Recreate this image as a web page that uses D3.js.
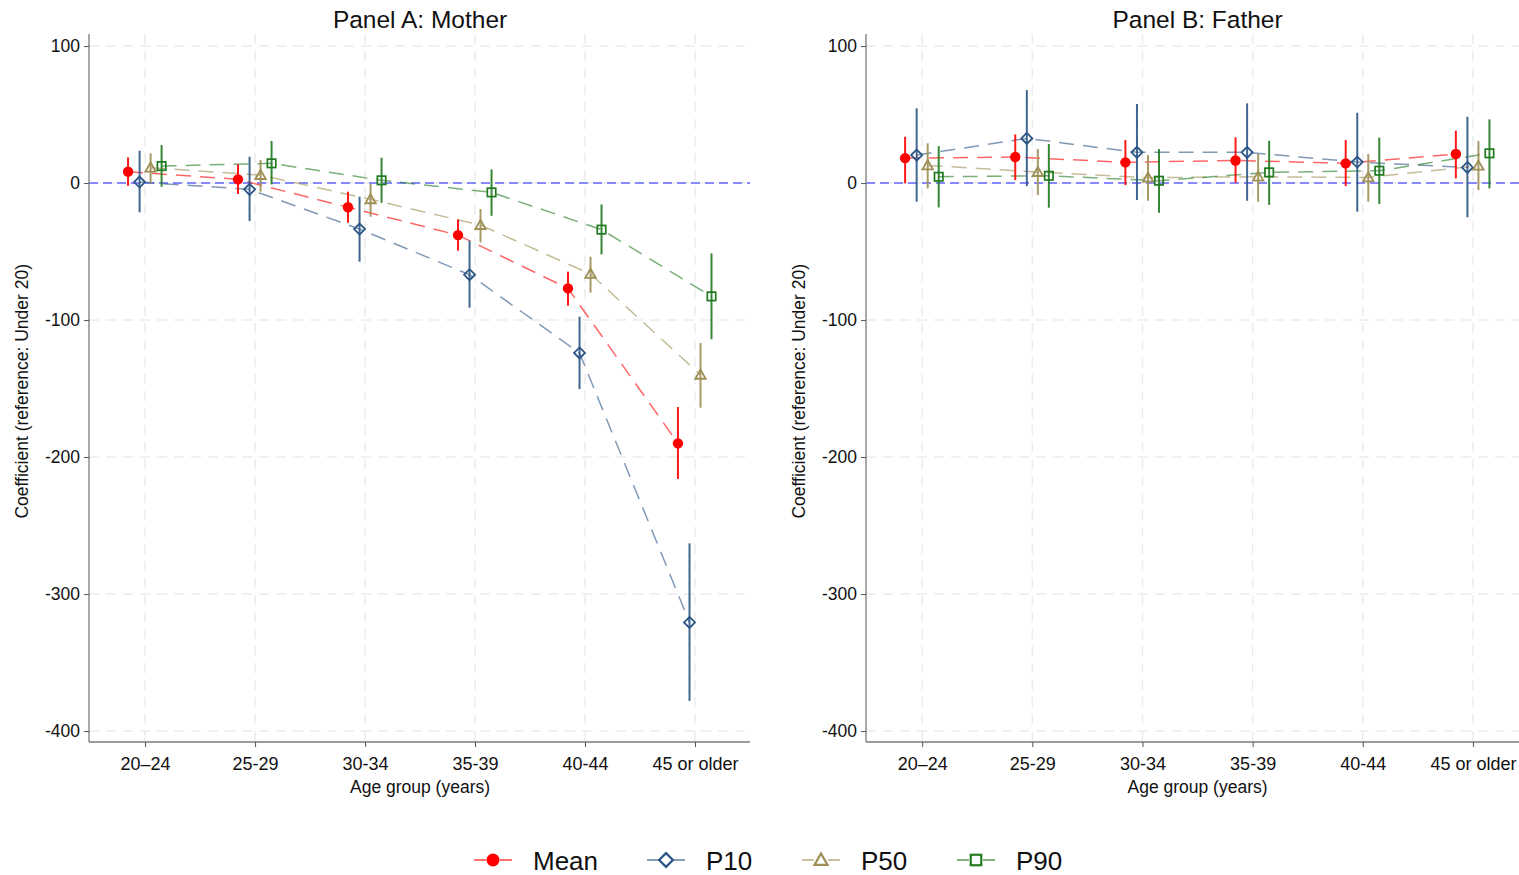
<!DOCTYPE html>
<html>
<head>
<meta charset="utf-8">
<script src="https://cdn.jsdelivr.net/npm/d3@7"></script>
<style>
  html, body { margin: 0; padding: 0; background: #fff; }
  svg { display: block; font-family: "Liberation Sans", Arial, sans-serif; }
</style>
</head>
<body>
<svg id="chart" width="1519" height="875"></svg>
<script>
// ---------- DATA ----------
const categories = ["20\u201324", "25-29", "30-34", "35-39", "40-44", "45 or older"];
const yTicks = [100, 0, -100, -200, -300, -400];
const seriesNames = ["Mean", "P10", "P50", "P90"];

// Panel A: Mother
const motherMean   = [8.3, 2.7, -17.7, -38, -76.9, -190];
const motherMeanLo = [-2, -8, -29, -49.4, -89.5, -216];
const motherMeanHi = [18.7, 13.6, -6.3, -26.5, -64.7, -163.5];

const motherP10   = [0.7, -4.6, -33.6, -66.9, -124, -320.7];
const motherP10Lo = [-21.4, -27.7, -57.4, -91, -150.4, -378];
const motherP10Hi = [23.6, 19.2, -10, -42.1, -97.6, -263];

const motherP50   = [11.2, 5.8, -11.9, -30.7, -66.4, -140];
const motherP50Lo = [-0.2, -6.3, -24.6, -43.3, -80, -164];
const motherP50Hi = [21.7, 16.8, -0.7, -19, -53.8, -116.8];

const motherP90   = [12.4, 14.4, 2, -6.8, -34, -82.7];
const motherP90Lo = [-2.7, -1, -14.4, -23.9, -52, -114];
const motherP90Hi = [27.7, 30.7, 18.5, 10, -15.6, -51.3];

// Panel B: Father
const fatherMean   = [18.2, 19, 15.1, 16.5, 14.4, 21.2];
const fatherMeanLo = [-0.2, 2.2, -1.5, 0.2, -2.2, 3.4];
const fatherMeanHi = [33.8, 35.5, 31.4, 33.4, 31.4, 38.2];

const fatherP10   = [20.4, 32.6, 22.4, 22.4, 15.3, 11.4];
const fatherP10Lo = [-13.6, -2.2, -12.4, -12.9, -20.9, -25];
const fatherP10Hi = [54.5, 67.9, 57.7, 58.2, 51.3, 48.4];

const fatherP50   = [12.9, 8, 3.9, 4.6, 4.1, 12.6];
const fatherP50Lo = [-3.9, -8.8, -12.9, -13.6, -13.6, -5.1];
const fatherP50Hi = [29, 24.8, 20.4, 21.2, 21.2, 30.7];

const fatherP90   = [4.6, 5.3, 1.7, 7.8, 9, 21.7];
const fatherP90Lo = [-17.8, -18, -21.7, -16, -15.3, -3.9];
const fatherP90Hi = [27, 28.5, 24.8, 30.9, 33.1, 46.5];

// ---------- STYLE ----------
const colors = { Mean: "#ff0000", P10: "#2b5584", P50: "#9d8f55", P90: "#1f7a1f" };
const offsets = { Mean: -0.155, P10: -0.05, P50: 0.05, P90: 0.15 };
const FONT = '"Liberation Sans", Arial, sans-serif';

const svg = d3.select("#chart");

const panels = [
  { title: "Panel A: Mother", left: 89, right: 750,
    data: {
      Mean: [motherMean, motherMeanLo, motherMeanHi],
      P10: [motherP10, motherP10Lo, motherP10Hi],
      P50: [motherP50, motherP50Lo, motherP50Hi],
      P90: [motherP90, motherP90Lo, motherP90Hi] } },
  { title: "Panel B: Father", left: 866, right: 1528,
    data: {
      Mean: [fatherMean, fatherMeanLo, fatherMeanHi],
      P10: [fatherP10, fatherP10Lo, fatherP10Hi],
      P50: [fatherP50, fatherP50Lo, fatherP50Hi],
      P90: [fatherP90, fatherP90Lo, fatherP90Hi] } }
];

const plotTop = 34, plotBottom = 742;

function drawMarker(g, name, x, y, big) {
  const s = big ? 1.25 : 1;
  const c = colors[name];
  if (name === "Mean") {
    g.append("circle").attr("cx", x).attr("cy", y).attr("r", 5.2 * s).attr("fill", c);
  } else if (name === "P10") {
    const r = 5.5 * s;
    g.append("path")
      .attr("d", `M${x},${y - r}L${x + r},${y}L${x},${y + r}L${x - r},${y}Z`)
      .attr("fill", "none").attr("stroke", c).attr("stroke-width", 1.8 * s);
  } else if (name === "P50") {
    const r = 5.2 * s;
    g.append("path")
      .attr("d", `M${x},${y - r}L${x + r},${y + r * 0.75}L${x - r},${y + r * 0.75}Z`)
      .attr("fill", "none").attr("stroke", c).attr("stroke-width", 1.8 * s);
  } else {
    const r = 4.2 * s;
    g.append("rect").attr("x", x - r).attr("y", y - r).attr("width", 2 * r).attr("height", 2 * r)
      .attr("fill", "none").attr("stroke", c).attr("stroke-width", 1.7 * s);
  }
}

panels.forEach(p => {
  const x = d3.scaleLinear().domain([0.49, 6.5]).range([p.left, p.right]);
  const y = d3.scaleLinear().domain([108.8, -408]).range([plotTop, plotBottom]);
  const g = svg.append("g");

  // grid
  g.append("g").selectAll("line").data(yTicks).join("line")
    .attr("x1", p.left).attr("x2", p.right)
    .attr("y1", d => y(d)).attr("y2", d => y(d))
    .attr("stroke", "#ececec").attr("stroke-width", 1.5).attr("stroke-dasharray", "10,7");
  g.append("g").selectAll("line").data(categories).join("line")
    .attr("x1", (d, i) => x(i + 1)).attr("x2", (d, i) => x(i + 1))
    .attr("y1", plotTop).attr("y2", plotBottom)
    .attr("stroke", "#ececec").attr("stroke-width", 1.5).attr("stroke-dasharray", "10,7");

  // zero reference line
  g.append("line")
    .attr("x1", p.left).attr("x2", p.right).attr("y1", y(0)).attr("y2", y(0))
    .attr("stroke", "#8888ff").attr("stroke-width", 2).attr("stroke-dasharray", "9,5");

  // axes
  const yAxis = d3.axisLeft(y).tickValues(yTicks).tickSize(5).tickPadding(4).tickFormat(d => String(d));
  const ya = g.append("g").attr("transform", `translate(${p.left},0)`).call(yAxis);
  ya.select(".domain").attr("stroke", "#7a7a7a").attr("stroke-width", 1.3).attr("d", `M0,${plotTop}V${plotBottom}`);
  ya.selectAll(".tick line").attr("stroke", "#555");
  ya.selectAll(".tick text").attr("font-size", "17.5px").attr("font-family", FONT).attr("fill", "#111");

  const xAxis = d3.axisBottom(x).tickValues([1, 2, 3, 4, 5, 6]).tickSize(5).tickPadding(10)
    .tickFormat(d => categories[d - 1]);
  const xa = g.append("g").attr("transform", `translate(0,${plotBottom})`).call(xAxis);
  xa.select(".domain").attr("stroke", "#7a7a7a").attr("stroke-width", 1.3).attr("d", `M${p.left},0H${p.right}`);
  xa.selectAll(".tick line").attr("stroke", "#555");
  xa.selectAll(".tick text").attr("font-size", "18px").attr("font-family", FONT).attr("fill", "#111");

  // titles
  const tcx = x(3.5);
  g.append("text").attr("x", tcx).attr("y", 28).attr("text-anchor", "middle")
    .attr("font-size", "24.5px").attr("font-family", FONT).attr("fill", "#111").text(p.title);
  g.append("text").attr("x", tcx).attr("y", 793).attr("text-anchor", "middle")
    .attr("font-size", "17.5px").attr("font-family", FONT).attr("fill", "#111").text("Age group (years)");
  g.append("text")
    .attr("transform", `translate(${p.left - 61},${y(-152)}) rotate(-90)`)
    .attr("text-anchor", "middle")
    .attr("font-size", "17.5px").attr("font-family", FONT).attr("fill", "#111")
    .text("Coefficient (reference: Under 20)");

  // series: connecting lines
  const line = d3.line().x(d => x(d.i + 1 + d.off)).y(d => y(d.v));
  seriesNames.forEach(name => {
    const [vals] = p.data[name];
    const pts = vals.map((v, i) => ({ i, v, off: offsets[name] }));
    g.append("path").datum(pts).attr("d", line)
      .attr("fill", "none").attr("stroke", colors[name]).attr("stroke-opacity", 0.6)
      .attr("stroke-width", 1.5).attr("stroke-dasharray", "15,9");
  });
  // CIs and markers
  seriesNames.forEach(name => {
    const [vals, lo, hi] = p.data[name];
    vals.forEach((v, i) => {
      const xx = x(i + 1 + offsets[name]);
      g.append("line").attr("x1", xx).attr("x2", xx).attr("y1", y(lo[i])).attr("y2", y(hi[i]))
        .attr("stroke", colors[name]).attr("stroke-width", 2).attr("stroke-opacity", 0.9);
      drawMarker(g, name, xx, y(v), false);
    });
  });
});

// legend
const legendX = [474, 647, 802, 957];
const legend = svg.append("g");
seriesNames.forEach((name, k) => {
  const lx = legendX[k], ly = 860;
  [[lx, lx + 12], [lx + 26, lx + 38]].forEach(([a, b]) => {
    legend.append("line").attr("x1", a).attr("x2", b).attr("y1", ly).attr("y2", ly)
      .attr("stroke", colors[name]).attr("stroke-width", 1.6).attr("stroke-opacity", 0.7);
  });
  drawMarker(legend, name, lx + 19, ly, true);
  legend.append("text").attr("x", lx + 59).attr("y", ly + 9.5)
    .attr("font-size", "26px").attr("font-family", FONT).attr("fill", "#111").text(name);
});
</script>
</body>
</html>
